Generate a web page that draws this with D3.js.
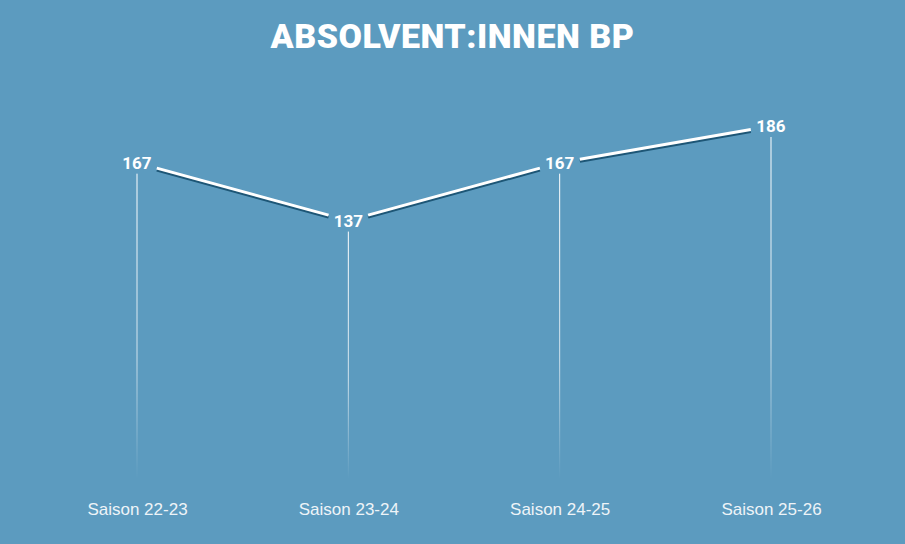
<!DOCTYPE html>
<html>
<head>
<meta charset="utf-8">
<script src="https://cdn.jsdelivr.net/npm/d3@7"></script>
<style>
  html, body { margin: 0; padding: 0; background: #5c9bbf; }
  svg { display: block; }
</style>
</head>
<body>
<div id="chart"></div>
<script>
var seasons = ['Saison 22-23', 'Saison 23-24', 'Saison 24-25', 'Saison 25-26'];
var graduates = [167, 137, 167, 186];
var chartTitle = 'ABSOLVENT:INNEN BP';

var W = 905, H = 544;
var margin = {top: 126, right: 134, bottom: 59, left: 137};

var svg = d3.select('#chart').append('svg')
    .attr('width', W)
    .attr('height', H);

svg.append('rect').attr('width', W).attr('height', H).attr('fill', '#5c9bbf');

var data = seasons.map(function(s, i) { return {season: s, value: graduates[i]}; });

var xScale = d3.scalePoint().domain(seasons).range([margin.left, W - margin.right]);
var yScale = d3.scaleLinear().domain([0, d3.max(graduates)]).range([H - margin.bottom, margin.top]);

// gradient for the drop lines
var defs = svg.append('defs');
var grad = defs.append('linearGradient')
    .attr('id', 'fade')
    .attr('x1', 0).attr('y1', 0).attr('x2', 0).attr('y2', 1);
grad.append('stop').attr('offset', '0%').attr('stop-color', '#fff').attr('stop-opacity', 1);
grad.append('stop').attr('offset', '60%').attr('stop-color', '#fff').attr('stop-opacity', 0.7);
grad.append('stop').attr('offset', '100%').attr('stop-color', '#fff').attr('stop-opacity', 0);

// title
svg.append('text')
    .attr('x', W / 2)
    .attr('y', 48)
    .attr('text-anchor', 'middle')
    .style('font-family', 'Roboto, "Open Sans", sans-serif')
    .style('font-weight', 900)
    .style('font-size', '34px')
    .style('letter-spacing', '0.5px')
    .attr('fill', '#fff')
    .text(chartTitle);

// drop lines
svg.selectAll('rect.drop')
    .data(data)
    .enter().append('rect')
    .attr('class', 'drop')
    .attr('x', function(d) { return xScale(d.season) - 0.5; })
    .attr('y', function(d) { return yScale(d.value) + 11; })
    .attr('width', 1)
    .attr('height', function(d) { return yScale(0) - 6 - (yScale(d.value) + 11); })
    .attr('fill', 'url(#fade)');

// line segments with gaps around labels
var gap = 20.5;
var segs = d3.pairs(data).map(function(p) {
    var x1 = xScale(p[0].season), y1 = yScale(p[0].value);
    var x2 = xScale(p[1].season), y2 = yScale(p[1].value);
    var len = Math.hypot(x2 - x1, y2 - y1);
    var ux = (x2 - x1) / len, uy = (y2 - y1) / len;
    return {x1: x1 + ux * gap, y1: y1 + uy * gap, x2: x2 - ux * gap, y2: y2 - uy * gap};
});

svg.selectAll('line.shadow')
    .data(segs)
    .enter().append('line')
    .attr('class', 'shadow')
    .attr('x1', function(d) { return d.x1; })
    .attr('y1', function(d) { return d.y1 + 2; })
    .attr('x2', function(d) { return d.x2; })
    .attr('y2', function(d) { return d.y2 + 2; })
    .attr('stroke', '#1d5676')
    .attr('stroke-width', 3);

svg.selectAll('line.seg')
    .data(segs)
    .enter().append('line')
    .attr('class', 'seg')
    .attr('x1', function(d) { return d.x1; })
    .attr('y1', function(d) { return d.y1; })
    .attr('x2', function(d) { return d.x2; })
    .attr('y2', function(d) { return d.y2; })
    .attr('stroke', '#fff')
    .attr('stroke-width', 3);

// value labels
svg.selectAll('text.val')
    .data(data)
    .enter().append('text')
    .attr('class', 'val')
    .attr('x', function(d) { return xScale(d.season); })
    .attr('y', function(d) { return yScale(d.value) + 6; })
    .attr('text-anchor', 'middle')
    .style('font-family', 'Roboto, "Open Sans", sans-serif')
    .style('font-weight', 700)
    .style('font-size', '17px')
    .attr('fill', '#fff')
    .text(function(d) { return d.value; });

// x axis labels
var xAxis = d3.axisBottom(xScale).tickSize(0).tickPadding(0);
var gx = svg.append('g')
    .attr('transform', 'translate(0,' + 503 + ')')
    .call(xAxis);
gx.select('.domain').remove();
gx.selectAll('text')
    .style('font-family', '"Liberation Sans", Arial, sans-serif')
    .style('font-size', '17px')
    .attr('fill', '#eef4f8');
</script>
</body>
</html>
